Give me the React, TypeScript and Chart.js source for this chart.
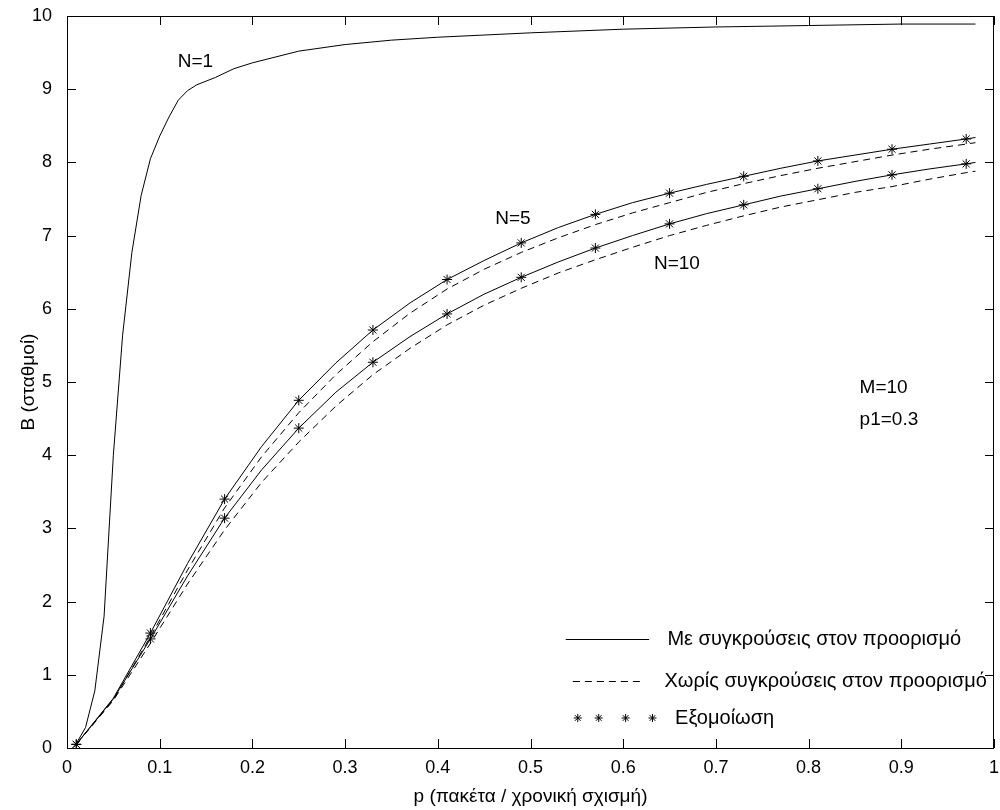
import React, { useEffect, useRef } from 'react';
import { Chart, registerables } from 'chart.js';

Chart.register(...registerables);

// Offered load p (packets / slot) for the analytic curves of N=5 and N=10
const pGrid = [0.01, 0.05, 0.09, 0.13, 0.17, 0.21, 0.25, 0.29, 0.33, 0.37, 0.41, 0.45, 0.49, 0.53, 0.57, 0.61, 0.65, 0.69, 0.73, 0.77, 0.81, 0.85, 0.89, 0.93, 0.97, 0.98];
// With collisions at the destination (solid)
const n5With = [0.05, 0.68, 1.57, 2.52, 3.40, 4.12, 4.75, 5.26, 5.71, 6.08, 6.40, 6.66, 6.90, 7.11, 7.29, 7.45, 7.58, 7.70, 7.81, 7.92, 8.02, 8.10, 8.18, 8.25, 8.32, 8.34];
const n10With = [0.05, 0.67, 1.49, 2.35, 3.14, 3.80, 4.37, 4.86, 5.27, 5.62, 5.93, 6.20, 6.43, 6.64, 6.83, 7.00, 7.16, 7.30, 7.42, 7.54, 7.64, 7.74, 7.83, 7.91, 7.98, 8.00];
// Without collisions at the destination (dashed)
const n5Without = [0.05, 0.66, 1.52, 2.43, 3.28, 3.98, 4.58, 5.10, 5.55, 5.94, 6.27, 6.54, 6.77, 6.97, 7.15, 7.31, 7.45, 7.59, 7.71, 7.82, 7.92, 8.01, 8.10, 8.18, 8.25, 8.27];
const n10Without = [0.05, 0.65, 1.43, 2.24, 2.98, 3.63, 4.18, 4.67, 5.10, 5.46, 5.78, 6.05, 6.28, 6.49, 6.67, 6.84, 7.00, 7.14, 7.27, 7.39, 7.49, 7.59, 7.67, 7.77, 7.86, 7.88];

// Simulation results (asterisks)
const pSim = [0.01, 0.09, 0.17, 0.25, 0.33, 0.41, 0.49, 0.57, 0.65, 0.73, 0.81, 0.89, 0.97];
const n5Sim = [0.05, 1.57, 3.40, 4.75, 5.71, 6.40, 6.90, 7.29, 7.58, 7.81, 8.02, 8.18, 8.32];
const n10Sim = [0.05, 1.49, 3.14, 4.37, 5.27, 5.93, 6.43, 6.83, 7.16, 7.42, 7.64, 7.83, 7.98];

// Single-station curve N=1
const pN1 = [0.01, 0.02, 0.03, 0.04, 0.05, 0.06, 0.07, 0.08, 0.09, 0.10, 0.11, 0.12, 0.13, 0.14, 0.16, 0.18, 0.20, 0.25, 0.30, 0.35, 0.40, 0.50, 0.60, 0.70, 0.80, 0.90, 0.98];
const n1Curve = [0.06, 0.28, 0.78, 1.80, 4.00, 5.64, 6.77, 7.55, 8.05, 8.36, 8.62, 8.85, 8.98, 9.06, 9.16, 9.28, 9.36, 9.52, 9.61, 9.67, 9.71, 9.77, 9.82, 9.85, 9.87, 9.89, 9.89];

const xTickValues = [0, 0.1, 0.2, 0.3, 0.4, 0.5, 0.6, 0.7, 0.8, 0.9, 1];
const yTickValues = [0, 1, 2, 3, 4, 5, 6, 7, 8, 9, 10];

const xTitle = 'p (πακέτα / χρονική σχισμή)';
const yTitle = 'B (σταθμοί)';
const legendLabels = ['Με συγκρούσεις στον προορισμό', 'Χωρίς συγκρούσεις στον προορισμό', 'Εξομοίωση'];
const curveLabels = [
  { text: 'N=1', x: 0.1386, y: 9.37, align: 'center' },
  { text: 'N=5', x: 0.481, y: 7.23, align: 'center' },
  { text: 'N=10', x: 0.658, y: 6.61, align: 'center' },
  { text: 'M=10', x: 0.855, y: 4.92, align: 'left' },
  { text: 'p1=0.3', x: 0.855, y: 4.48, align: 'left' },
];

const FONT_FAMILY = "'Liberation Sans', Arial, Helvetica, sans-serif";
const TICK_SIZE = 18;
const TITLE_SIZE = 19;
const NOTE_SIZE = 19;
const LEGEND_SIZE = 20;

const pts = (xs: number[], ys: number[]) => xs.map((x, i) => ({ x, y: ys[i] }));

function drawStar(ctx: CanvasRenderingContext2D, x: number, y: number, r: number) {
  ctx.beginPath();
  for (let k = 0; k < 4; k++) {
    const a = (k * Math.PI) / 4;
    const dx = Math.cos(a) * r;
    const dy = Math.sin(a) * r;
    ctx.moveTo(x - dx, y - dy);
    ctx.lineTo(x + dx, y + dy);
  }
  ctx.stroke();
}

const framePlugin = {
  id: 'frameAndNotes',
  afterDatasetsDraw(chart: any) {
    const { ctx, chartArea } = chart;
    const xs = chart.scales.x;
    const ys = chart.scales.y;
    const { left, right, top, bottom } = chartArea;
    const tick = 9;
    ctx.save();
    ctx.strokeStyle = '#000';
    ctx.lineWidth = 1;
    ctx.setLineDash([]);
    // axes box
    ctx.strokeRect(Math.round(left) + 0.5, Math.round(top) + 0.5, Math.round(right - left) - 1, Math.round(bottom - top));
    // inward tick marks on all four sides
    ctx.beginPath();
    xTickValues.forEach((v) => {
      const px = Math.round(xs.getPixelForValue(v)) + 0.5;
      ctx.moveTo(px, bottom);
      ctx.lineTo(px, bottom - tick);
      ctx.moveTo(px, top);
      ctx.lineTo(px, top + tick);
    });
    yTickValues.forEach((v) => {
      const py = Math.round(ys.getPixelForValue(v)) + 0.5;
      ctx.moveTo(left, py);
      ctx.lineTo(left + tick, py);
      ctx.moveTo(right, py);
      ctx.lineTo(right - tick, py);
    });
    ctx.stroke();

    ctx.fillStyle = '#000';
    ctx.font = `${NOTE_SIZE}px ${FONT_FAMILY}`;
    ctx.textBaseline = 'middle';
    curveLabels.forEach((l) => {
      ctx.textAlign = l.align as CanvasTextAlign;
      ctx.fillText(l.text, xs.getPixelForValue(l.x), ys.getPixelForValue(l.y));
    });

    // legend, drawn inside the axes
    ctx.font = `${LEGEND_SIZE}px ${FONT_FAMILY}`;
    ctx.textAlign = 'left';
    const r1 = ys.getPixelForValue(1.489);
    const r2 = ys.getPixelForValue(0.915);
    const r3 = ys.getPixelForValue(0.41);
    ctx.beginPath();
    ctx.moveTo(xs.getPixelForValue(0.538), Math.round(r1) + 0.5);
    ctx.lineTo(xs.getPixelForValue(0.628), Math.round(r1) + 0.5);
    ctx.stroke();
    ctx.fillText(legendLabels[0], xs.getPixelForValue(0.6477), r1);

    ctx.setLineDash([7, 5]);
    ctx.beginPath();
    ctx.moveTo(xs.getPixelForValue(0.5457), Math.round(r2) + 0.5);
    ctx.lineTo(xs.getPixelForValue(0.623), Math.round(r2) + 0.5);
    ctx.stroke();
    ctx.setLineDash([]);
    ctx.fillText(legendLabels[1], xs.getPixelForValue(0.6445), r2);

    [0.551, 0.5736, 0.6026, 0.6316].forEach((v) => drawStar(ctx, xs.getPixelForValue(v), r3, 4));
    ctx.fillText(legendLabels[2], xs.getPixelForValue(0.656), r3);
    ctx.restore();
  },
};

export default function App() {
  const canvasRef = useRef<HTMLCanvasElement | null>(null);

  useEffect(() => {
    document.body.style.margin = '0';
    const canvas = canvasRef.current;
    if (!canvas) return;
    const tickFont = { family: FONT_FAMILY, size: TICK_SIZE };
    const titleFont = { family: FONT_FAMILY, size: TITLE_SIZE };
    const solid = { borderColor: '#000', borderWidth: 1, pointRadius: 0, fill: false, tension: 0 };
    const dashed = { ...solid, borderDash: [7, 5] };
    const stars = {
      showLine: false, pointStyle: 'star', pointRadius: 5,
      borderColor: '#000', backgroundColor: '#000', borderWidth: 1,
    };
    const chart = new Chart(canvas, {
      type: 'line',
      data: {
        datasets: [
          { label: 'N=1', data: pts(pN1, n1Curve), ...solid },
          { label: 'N=5 με συγκρούσεις', data: pts(pGrid, n5With), ...solid },
          { label: 'N=10 με συγκρούσεις', data: pts(pGrid, n10With), ...solid },
          { label: 'N=5 χωρίς συγκρούσεις', data: pts(pGrid, n5Without), ...dashed },
          { label: 'N=10 χωρίς συγκρούσεις', data: pts(pGrid, n10Without), ...dashed },
          { label: 'Εξομοίωση N=5', data: pts(pSim, n5Sim), ...stars },
          { label: 'Εξομοίωση N=10', data: pts(pSim, n10Sim), ...stars },
        ],
      },
      options: {
        animation: false,
        responsive: false,
        maintainAspectRatio: false,
        layout: { padding: { top: 16, right: 2, left: 0, bottom: 0 } },
        plugins: { legend: { display: false }, tooltip: { enabled: false } },
        elements: { line: { borderCapStyle: 'butt' } },
        scales: {
          x: {
            type: 'linear',
            min: 0,
            max: 1,
            afterBuildTicks: (s: any) => { s.ticks = xTickValues.map((value) => ({ value })); },
            afterFit: (s: any) => { s.height = 62; s.paddingLeft = 0; s.paddingRight = 0; },
            ticks: {
              color: '#000', font: tickFont, padding: 1, maxRotation: 0, autoSkip: false,
              callback: (v: any) => String(Number(Number(v).toFixed(1))),
            },
            grid: { display: false },
            border: { display: false },
            title: { display: true, text: xTitle, color: '#000', font: titleFont, padding: { top: 0, bottom: 2 } },
          },
          y: {
            type: 'linear',
            min: 0,
            max: 10,
            afterBuildTicks: (s: any) => { s.ticks = yTickValues.map((value) => ({ value })); },
            afterFit: (s: any) => { s.width = 67; s.paddingTop = 0; s.paddingBottom = 0; },
            ticks: { color: '#000', font: tickFont, padding: 7, autoSkip: false, callback: (v: any) => String(v) },
            grid: { display: false },
            border: { display: false },
            title: { display: true, text: yTitle, color: '#000', font: titleFont, padding: { top: 17, bottom: 0 } },
          },
        },
      },
      plugins: [framePlugin],
    } as any);
    return () => chart.destroy();
  }, []);

  return (
    <div style={{ width: 1000, height: 810, background: '#fff' }}>
      <canvas ref={canvasRef} width={1000} height={810} style={{ display: 'block' }} />
    </div>
  );
}
